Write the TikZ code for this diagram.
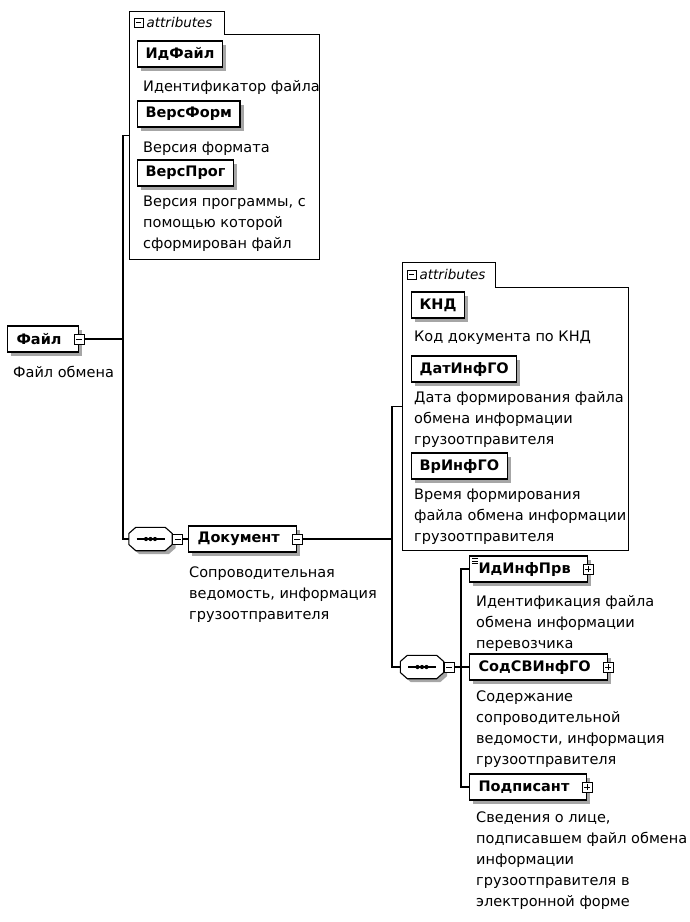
\documentclass[tikz,border=0pt]{standalone}
\usepackage{fontspec}
\setmainfont{DejaVu Sans}
\usetikzlibrary{positioning,shadows,calc}

\newcommand{\descfont}{\fontsize{14.5}{21}\selectfont}
\newcommand{\namefont}{\bfseries\fontsize{14.5}{17}\selectfont}

% octagon of a sequence compositor, drawn round an invisible node
\newcommand{\octpath}[3]{($(#1.west)+(#2,#3-5.5)$) -- ($(#1.north west)+(#2+7,#3)$)
  -- ($(#1.north east)+(#2-7,#3)$) -- ($(#1.east)+(#2,#3-5.5)$) -- ($(#1.east)+(#2,#3+5.5)$)
  -- ($(#1.south east)+(#2-7,#3)$) -- ($(#1.south west)+(#2+7,#3)$) -- ($(#1.west)+(#2,#3+5.5)$) -- cycle}
\newcommand{\seqbody}[1]{%
  \fill[black!35] \octpath{#1}{3.5}{3.5};
  \draw[line width=1.1pt, fill=white] \octpath{#1}{0}{0};
  \draw[line width=1.1pt] ($(#1.center)+(-14,0)$) -- ($(#1.center)+(14,0)$);
  \foreach \dx in {-4.5,0,4.5}
    \fill ($(#1.center)+(\dx,0)$) circle (2.1);}

\tikzset{
  boxshadow/.style={drop shadow={shadow xshift=3.5pt, shadow yshift=-3.5pt, fill=black!35, opacity=1}},
  elem/.style={draw, line width=1.2pt, fill=white, boxshadow, font=\namefont,
    minimum height=26pt, inner xsep=8pt, inner ysep=0pt, anchor=west},
  elemx/.style={elem, inner xsep=9pt, execute at end node={\hspace{8pt}}},
  desc/.style={font=\descfont, align=left, anchor=base west, inner sep=0pt},
  conn/.style={line width=1.1pt},
  attrline/.style={line width=0.9pt},
  tabtext/.style={font=\itshape\fontsize{13.5}{15}\selectfont, anchor=west, inner xsep=3pt},
  expbox/.style={draw, line width=0.8pt, fill=white, minimum size=10pt, inner sep=0pt},
  minusbox/.style={expbox, path picture={
      \draw[line width=0.8pt] ([xshift=2pt]path picture bounding box.west) -- ([xshift=-2pt]path picture bounding box.east);}},
  plusbox/.style={expbox, path picture={
      \draw[line width=0.8pt] ([xshift=2pt]path picture bounding box.west) -- ([xshift=-2pt]path picture bounding box.east)
        ([yshift=2pt]path picture bounding box.south) -- ([yshift=-2pt]path picture bounding box.north);}},
  seq/.style={inner sep=0pt, minimum width=43pt, minimum height=23pt},
  group/.style={inner sep=0pt, anchor=north west},
}

\begin{document}
\begin{tikzpicture}[x=1pt, y=-1pt]
  \useasboundingbox (0,0) rectangle (689,922);

  % root element
  \node[elemx] (file) at (7,339) {Файл};
  \node[minusbox] (fileexp) at (file.east) {};
  \node[desc] (filedesc) at (13,377) {Файл обмена};

  % attributes of Файл
  \draw[attrline] (129,11) -- (224,11) -- (224,34) -- (319,34) -- (319,259) -- (129,259) -- cycle;
  \node[group, minimum width=190pt, minimum height=248pt] (fgroup) at (129,11) {};
  \node[minusbox, minimum size=9pt] (ftabexp) at (138.5,22.5) {};
  \node[tabtext] (ftab) at (ftabexp.east) {attributes};

  \node[elem] (idfile) at (137,54) {ИдФайл};
  \node[desc] (idfiledesc) at (143,91) {Идентификатор файла};
  \node[elem] (versform) at (137,114) {ВерсФорм};
  \node[desc] (versformdesc) at (143,152) {Версия формата};
  \node[elem] (versprog) at (137,173) {ВерсПрог};
  \node[desc] (versprogdesc) at (143,248) {Версия программы, с\\помощью которой\\сформирован файл};

  % sequence under Файл
  \coordinate (ftrunk) at (123,339);
  \node[seq] (seq1) at (150.5,539) {};
  \seqbody{seq1}
  \node[minusbox, anchor=west] (seq1exp) at (seq1.east) {};

  \node[elemx] (doc) at (188,539) {Документ};
  \node[minusbox] (docexp) at (doc.east) {};
  \node[desc] (docdesc) at (189,619) {Сопроводительная\\ведомость, информация\\грузоотправителя};

  \draw[conn] (fileexp.east) -- (ftrunk);
  \draw[conn] (fgroup.west) -| (ftrunk) |- (seq1.west);
  \draw[conn] (seq1exp.east) -- (doc.west);

  % attributes of Документ
  \draw[attrline] (402,262) -- (495,262) -- (495,287) -- (628,287) -- (628,550) -- (402,550) -- cycle;
  \node[group, minimum width=226pt, minimum height=288pt] (dgroup) at (402,262) {};
  \node[minusbox, minimum size=9pt] (dtabexp) at (411.5,274.5) {};
  \node[tabtext] (dtab) at (dtabexp.east) {attributes};

  \node[elem] (knd) at (411,305) {КНД};
  \node[desc] (knddesc) at (414,341) {Код документа по КНД};
  \node[elem] (datinf) at (411,369) {ДатИнфГО};
  \node[desc] (datinfdesc) at (414,444) {Дата формирования файла\\обмена информации\\грузоотправителя};
  \node[elem] (vrinf) at (411,466) {ВрИнфГО};
  \node[desc] (vrinfdesc) at (414,541) {Время формирования\\файла обмена информации\\грузоотправителя};

  % sequence under Документ
  \coordinate (dtrunk) at (392,539);
  \node[seq] (seq2) at (422,667) {};
  \seqbody{seq2}
  \node[minusbox, anchor=west] (seq2exp) at (seq2.east) {};
  \coordinate (ctrunk) at (461,667);

  \node[elemx] (idinf) at (469,569) {ИдИнфПрв};
  \node[plusbox] (idinfexp) at (idinf.east) {};
  \draw[line width=0.7pt] ([xshift=3pt,yshift=-3pt]idinf.north west) -- ++(6,0)
    ([xshift=3pt,yshift=-5.5pt]idinf.north west) -- ++(6,0)
    ([xshift=3pt,yshift=-8pt]idinf.north west) -- ++(6,0);
  \node[desc] (idinfdesc) at (476,648) {Идентификация файла\\обмена информации\\перевозчика};

  \node[elemx] (sodsv) at (469,667) {СодСВИнфГО};
  \node[plusbox] (sodsvexp) at (sodsv.east) {};
  \node[desc] (sodsvdesc) at (476,764) {Содержание\\сопроводительной\\ведомости, информация\\грузоотправителя};

  \node[elemx] (podp) at (469,787) {Подписант};
  \node[plusbox] (podpexp) at (podp.east) {};
  \node[desc] (podpdesc) at (476,906) {Сведения о лице,\\подписавшем файл обмена\\информации\\грузоотправителя в\\электронной форме};

  \draw[conn] (docexp.east) -- (dtrunk);
  \draw[conn] (dgroup.west) -| (dtrunk) |- (seq2.west);
  \draw[conn] (seq2exp.east) -- (sodsv.west);
  \draw[conn] (idinf.west) -| (ctrunk) |- (podp.west);
\end{tikzpicture}
\end{document}
